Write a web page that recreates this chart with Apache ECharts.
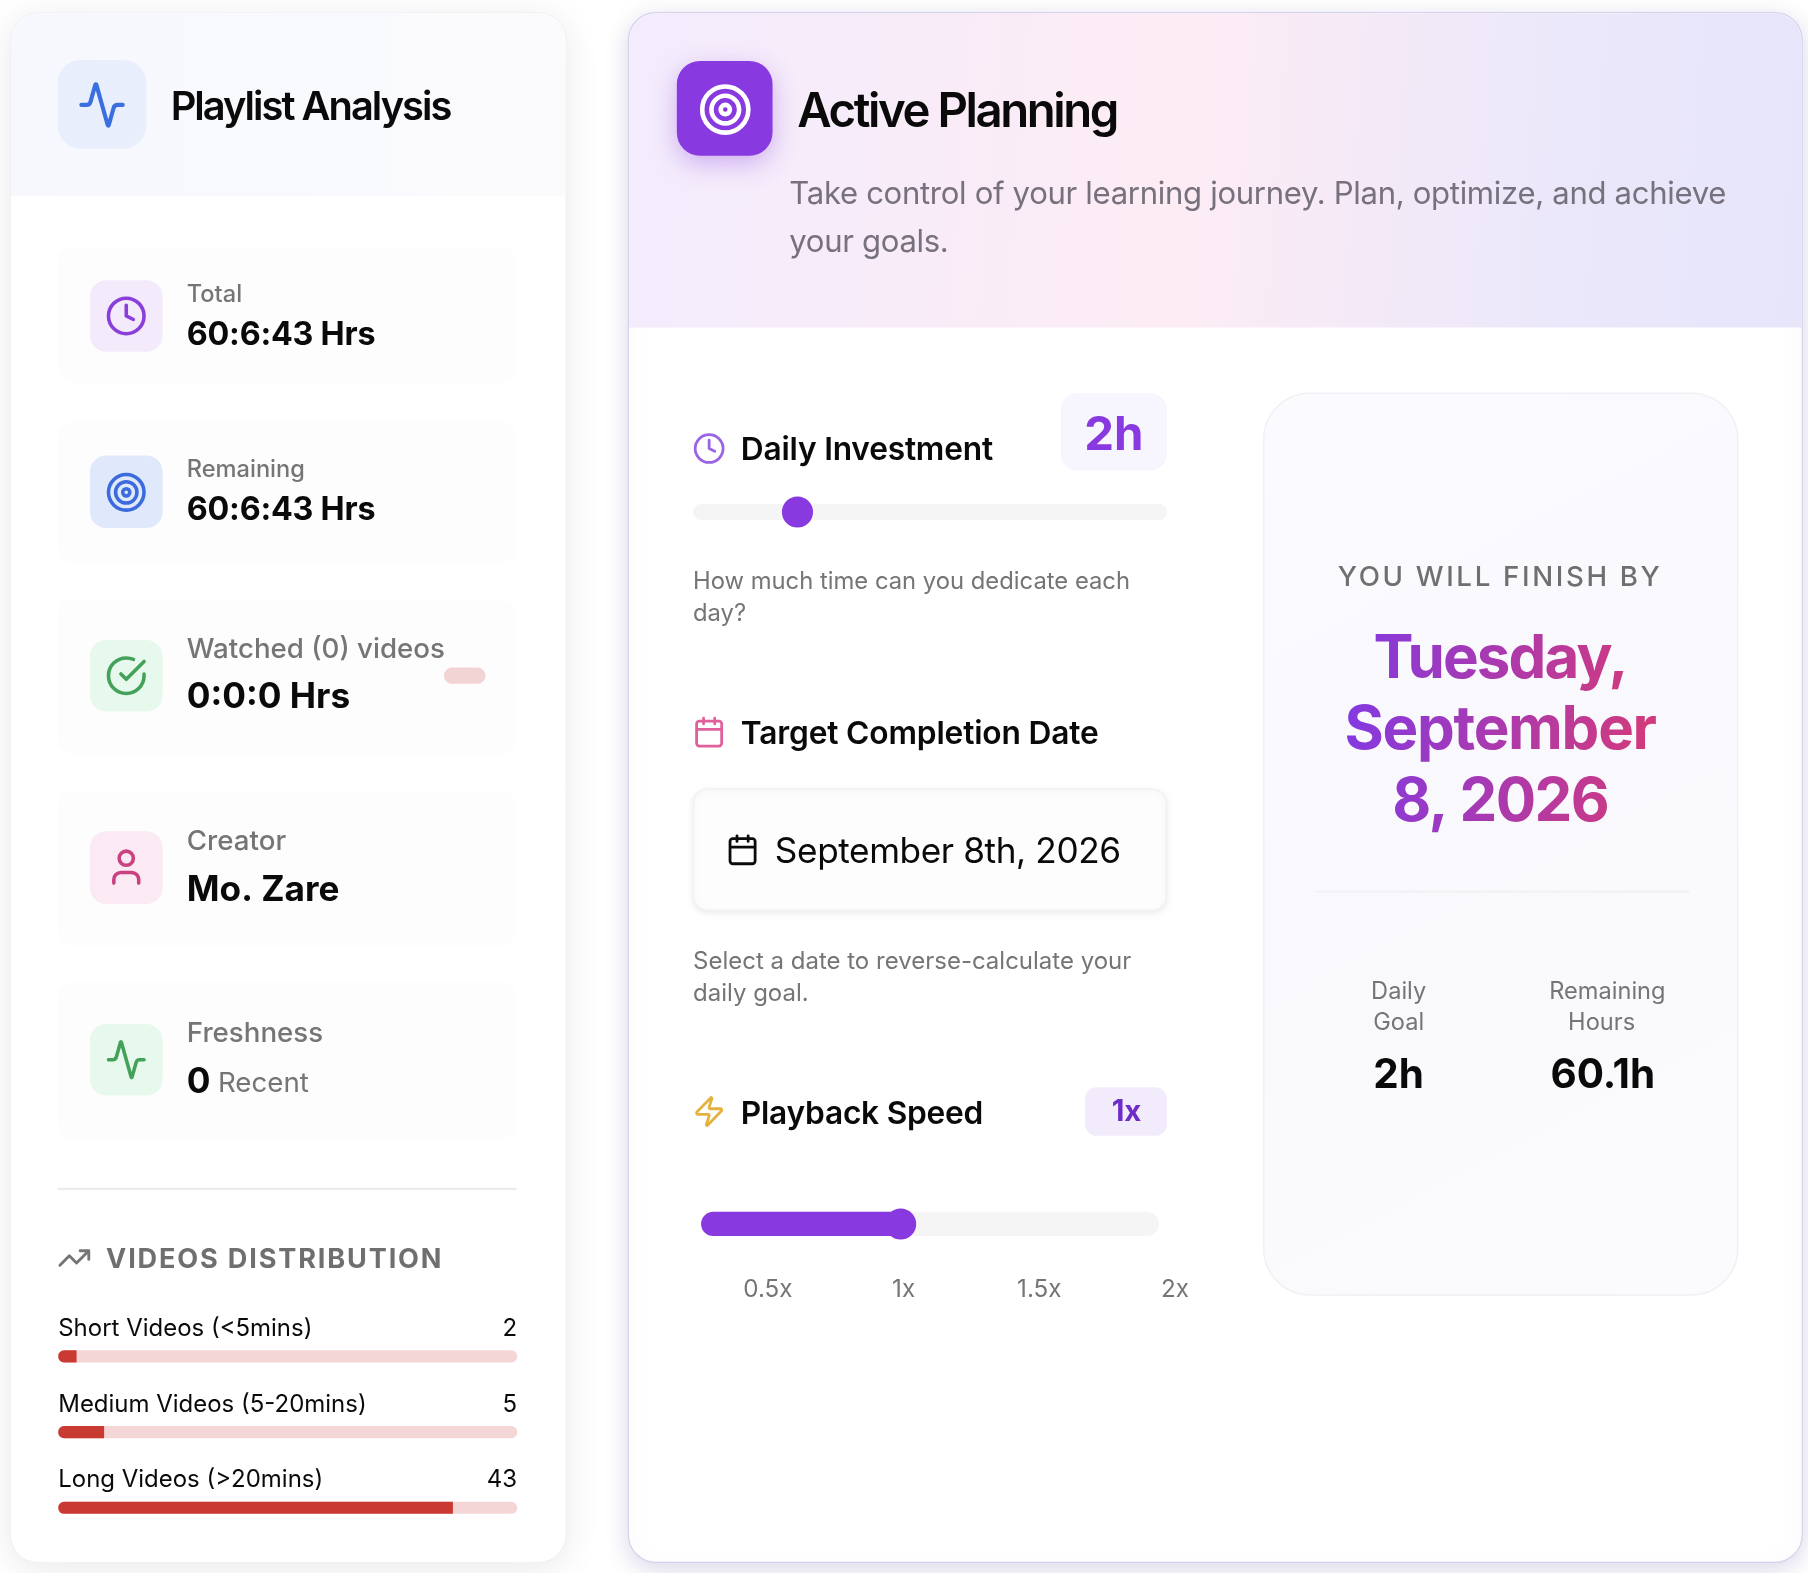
<!DOCTYPE html>
<html>
<head>
<meta charset="utf-8">
<title>Active Planning</title>
<script src="https://cdn.jsdelivr.net/npm/echarts@6/dist/echarts.min.js"></script>
<style>
	html, body { margin: 0; padding: 0; background: #fff; }
	#chart-container { width: 1808px; height: 1573px; }
</style>
</head>
<body>
<div id="chart-container"></div>
<script>
// Values
const distCategories = ['Short Videos (<5mins)', 'Medium Videos (5-20mins)', 'Long Videos (>20mins)'];
const distValues = [2, 5, 43];
const distTotal = 50;
const dailyHours = [2];
const dailyRange = [0.5, 8];
const speedValue = [1];
const speedTicks = [0.5, 1, 1.5, 2];

// all layout numbers below are in the 1568 wide design, k brings them to the page
const k = 1808 / 1568;
const FONT = 'Inter';
const PURPLE = '#8839df';
const GREY = '#757575';
const INK = '#0a0a0a';

// text -> letter spacing / fill, applied to the rendered spans after setOption
const tracked = {};
const gradients = {};

const iconPaths = {
	activity: 'M22 12h-2.48a2 2 0 0 0-1.93 1.46l-2.35 8.36a.25.25 0 0 1-.48 0L9.24 2.18a.25.25 0 0 0-.48 0l-2.35 8.36A2 2 0 0 1 4.49 12H2',
	clock: 'M22 12a10 10 0 0 0-20 0a10 10 0 0 0 20 0z M12 6v6l4 2',
	target: 'M22 12a10 10 0 0 0-20 0a10 10 0 0 0 20 0z M18 12a6 6 0 0 0-12 0a6 6 0 0 0 12 0z M14 12a2 2 0 0 0-4 0a2 2 0 0 0 4 0z',
	check: 'M22 11.08V12a10 10 0 1 1-5.93-9.14 M22 4L12 14.01l-3-3',
	user: 'M19 21v-2a4 4 0 0 0-4-4H9a4 4 0 0 0-4 4v2 M16 7a4 4 0 0 0-8 0a4 4 0 0 0 8 0z',
	calendar: 'M8 2v4 M16 2v4 M5 4h14a2 2 0 0 1 2 2v14a2 2 0 0 1-2 2H5a2 2 0 0 1-2-2V6a2 2 0 0 1 2-2z M3 10h18',
	zap: 'M4 14a1 1 0 0 1-.78-1.63l9.9-10.2a.5.5 0 0 1 .86.46l-1.92 6.02A1 1 0 0 0 13 10h7a1 1 0 0 1 .78 1.63l-9.9 10.2a.5.5 0 0 1-.86-.46l1.92-6.02A1 1 0 0 0 11 14z',
	trending: 'M16 7h6v6 M22 7l-8.5 8.5-5-5L2 17'
};
Object.keys(iconPaths).forEach(function (name) {
	echarts.graphic.registerShape('icon-' + name, echarts.graphic.extendPath(iconPaths[name]));
});

function box(x0, y0, x1, y1, r, fill, extra) {
	return {
		type: 'rect',
		silent: true,
		shape: { x: x0 * k, y: y0 * k, width: (x1 - x0) * k, height: (y1 - y0) * k, r: Array.isArray(r) ? r.map(v => v * k) : r * k },
		style: Object.assign({ fill: fill }, extra || {})
	};
}

function label(text, x, y, size, color, weight, align, spacing) {
	if (spacing) tracked[text] = spacing;
	return {
		type: 'text',
		silent: true,
		x: x * k,
		y: (y + size * 0.07) * k,
		style: {
			text: text,
			fill: color,
			font: (weight || 400) + ' ' + (size * k).toFixed(1) + 'px ' + FONT,
			textAlign: align || 'left',
			textVerticalAlign: 'middle',
			verticalAlign: 'middle'
		}
	};
}

function icon(name, cx, cy, units, color, lineWidth) {
	const s = units * k / 24;
	return {
		type: 'icon-' + name,
		silent: true,
		x: cx * k - 12 * s,
		y: cy * k - 12 * s,
		scaleX: s,
		scaleY: s,
		style: { fill: 'none', stroke: color, lineWidth: lineWidth || 2, lineCap: 'round', lineJoin: 'round' }
	};
}

// the date headline is a gradient clipped to the glyphs, so a canvas gradient is used
function headline(text, y, spacing) {
	const g = document.createElement('canvas').getContext('2d')
		.createLinearGradient((1167 - 1301) * k, -20 * k, (1436 - 1301) * k, 20 * k);
	g.addColorStop(0, '#8339e2');
	g.addColorStop(1, '#d43a78');
	gradients[text] = g;
	return label(text, 1301, y, 52, PURPLE, 700, 'center', spacing);
}

const lg = echarts.graphic.LinearGradient;

const elements = [
	// left panel
	box(9, 11, 491, 1355, 24, '#ffffff', { shadowBlur: 34, shadowColor: 'rgba(40,40,60,0.10)', shadowOffsetY: 6, stroke: '#f1f1f4', lineWidth: 1 }),
	box(9.5, 11.5, 490.5, 170, [24, 24, 0, 0], new lg(0, 0, 1, 0, [{ offset: 0, color: '#f6f8fe' }, { offset: 1, color: '#fbfbfd' }])),
	box(50, 52, 127, 129, 20, new lg(0, 0, 1, 1, [{ offset: 0, color: '#e8eefc' }, { offset: 1, color: '#eaeffc' }])),
	icon('activity', 88.5, 91, 43, '#3b6fe0', 2),
	label('Playlist Analysis', 148, 91.5, 34.5, INK, 600, 'left', -1.7),

	// stat rows
	box(50, 214, 448, 332, 14, '#fdfdfd'),
	box(50, 366, 448, 488, 14, '#fdfdfd'),
	box(50, 520, 448, 654, 14, '#fdfdfd'),
	box(50, 686, 448, 820, 14, '#fdfdfd'),
	box(50, 852, 448, 988, 14, '#fdfdfd'),

	box(78, 243, 141, 305, 14, '#f3ebfc'),
	icon('clock', 109.5, 274, 37, '#8a3fd9', 2),
	label('Total', 162, 254, 20.5, GREY, 500),
	label('60:6:43 Hrs', 162, 288.5, 28, INK, 700, 'left', -0.2),

	box(78, 395, 141, 458, 14, '#dfe9fb'),
	icon('target', 109.5, 427, 37, '#3b6bdc', 2),
	label('Remaining', 162, 406, 20.5, GREY, 500),
	label('60:6:43 Hrs', 162, 441, 28, INK, 700, 'left', -0.2),

	box(78, 555, 141, 617, 14, '#e7f8ec'),
	icon('check', 109.5, 586, 37, '#43a15a', 2),
	label('Watched (0) videos', 162, 561.5, 24, GREY, 500),
	label('0:0:0 Hrs', 162, 603, 30.5, INK, 700),
	box(385, 579, 421, 593, 7, '#f3d4d4'),

	box(78, 721, 141, 784, 14, '#fbe9f3'),
	icon('user', 109.5, 752, 37, '#c9427f', 2),
	label('Creator', 162, 728, 24, GREY, 500),
	label('Mo. Zare', 162, 770, 30.5, INK, 700),

	box(78, 888, 141, 950, 14, '#e7f8ec'),
	icon('activity', 109.5, 919, 37, '#43a15a', 2),
	label('Freshness', 162, 895, 24, GREY, 500),
	label('0', 162, 937, 30.5, INK, 700),
	label('Recent', 189, 938.5, 24, GREY, 400),

	box(50, 1030, 448, 1032, 0, '#ececef'),
	icon('trending', 64.5, 1091, 30, '#757575', 2),
	label('VIDEOS DISTRIBUTION', 92, 1091, 23.5, '#6f6f6f', 700, 'left', 1.6),

	// right panel
	box(545, 11, 1563, 1355, 24, '#ffffff', { shadowBlur: 24, shadowColor: 'rgba(90,80,150,0.22)', shadowOffsetY: 6, stroke: '#d6d2ec', lineWidth: 1.2 }),
	box(545.6, 11.6, 1562.4, 284, [24, 24, 0, 0], new lg(0, 0, 1, 0.28, [
		{ offset: 0, color: '#f3ecfd' },
		{ offset: 0.48, color: '#fdecf4' },
		{ offset: 0.78, color: '#ece8fa' },
		{ offset: 1, color: '#e6e5fa' }
	])),
	box(587, 53, 670, 135, 20, PURPLE, { shadowBlur: 26, shadowColor: 'rgba(136,57,223,0.35)', shadowOffsetY: 8 }),
	icon('target', 629, 95, 48, '#ffffff', 2),
	label('Active Planning', 691.5, 95, 41, INK, 600, 'left', -2.1),
	label('Take control of your learning journey. Plan, optimize, and achieve', 684.5, 167, 27, '#76717d', 400, 'left', -0.28),
	label('your goals.', 684.5, 208.5, 27, '#76717d', 400, 'left', -0.28),

	icon('clock', 615, 389, 29, '#9b63e6', 2),
	label('Daily Investment', 642.5, 388.5, 27.5, INK, 600, 'left', -0.18),
	box(920, 341, 1012, 408, 14, '#f7f5fd'),
	label('2h', 966, 375, 41, PURPLE, 700, 'center'),
	box(601, 437, 1012, 451, 7, '#f5f5f5'),
	label('How much time can you dedicate each', 601, 503, 20.6, GREY, 400),
	label('day?', 601, 531, 20.6, GREY, 400),

	icon('calendar', 615, 635, 29, '#e0609c', 2),
	label('Target Completion Date', 642.5, 635, 27.5, INK, 600, 'left', -0.14),
	box(601.5, 684.5, 1011.5, 789.5, 12, '#fdfdfd', { stroke: '#f2f2f2', lineWidth: 1.5, shadowBlur: 6, shadowColor: 'rgba(0,0,0,0.07)', shadowOffsetY: 2 }),
	icon('calendar', 644, 737, 29, '#0a0a0a', 2),
	label('September 8th, 2026', 672, 737, 30.5, INK, 400, 'left', -0.35),
	label('Select a date to reverse-calculate your', 601, 833, 20.8, GREY, 400),
	label('daily goal.', 601, 860.5, 20.8, GREY, 400),

	icon('zap', 615, 964, 29, '#e5b23f', 2),
	label('Playback Speed', 642.5, 964.5, 27.5, INK, 600, 'left', -0.2),
	box(941, 943, 1012, 985, 10, '#f1ebfc'),
	label('1x', 977, 963, 25.5, '#6f2dc8', 700, 'center'),

	// finish card
	box(1096, 341, 1507, 1123, 40, new lg(0, 0, 1, 1, [
		{ offset: 0, color: '#fbfaff' },
		{ offset: 0.5, color: '#f9f9fd' },
		{ offset: 1, color: '#fbfafc' }
	]), { stroke: '#f1f1f5', lineWidth: 1.5 }),
	label('YOU WILL FINISH BY', 1301, 499, 24, '#6f6f6f', 500, 'center', 2.3),
	headline('Tuesday,', 569, -1.6),
	headline('September', 630.5, -1.1),
	headline('8, 2026', 692.5, -1.4),
	box(1141, 772.5, 1465, 774, 0, '#f0f0f3'),
	label('Daily', 1213, 859, 20.5, GREY, 400, 'center'),
	label('Goal', 1213, 886, 20.5, GREY, 400, 'center'),
	label('2h', 1213, 931, 35, INK, 700, 'center'),
	label('Remaining', 1394, 859, 20.5, GREY, 400, 'center'),
	label('Hours', 1389, 886, 20.5, GREY, 400, 'center'),
	label('60.1h', 1390, 931, 35, INK, 700, 'center')
];

const chartDom = document.getElementById('chart-container');
const myChart = echarts.init(chartDom);

// names and counts sit one line above the middle of their bar
function distLabel() {
	return {
		inside: true,
		margin: 0,
		interval: 0,
		hideOverlap: false,
		color: INK,
		fontFamily: FONT,
		fontSize: 20.8 * k,
		lineHeight: 48 * k,
		formatter: function (v) { return v + '\n '; }
	};
}

const option = {
	animation: false,
	backgroundColor: '#ffffff',
	textStyle: { fontFamily: FONT },
	graphic: { elements: elements },
	grid: [
		// distribution bars
		{ left: 50.5 * k, width: 398 * k, top: 1143.5 * k, height: 197 * k },
		// daily slider, thumb travels inside the track
		{ left: 615 * k, width: 383 * k, top: 430 * k, height: 28 * k },
		// speed slider
		{ left: 608 * k, width: 397 * k, top: 1048 * k, height: 27 * k },
		// speed tick labels
		{ left: 666 * k, width: 353 * k, top: 1102 * k, height: 6 * k }
	],
	xAxis: [
		{ type: 'value', gridIndex: 0, min: 0, max: distTotal, show: false },
		{ type: 'value', gridIndex: 1, min: dailyRange[0], max: dailyRange[1], show: false },
		{ type: 'value', gridIndex: 2, min: 0.227, max: speedTicks[speedTicks.length - 1], show: false },
		{
			type: 'value',
			gridIndex: 3,
			min: speedTicks[0],
			max: speedTicks[speedTicks.length - 1],
			interval: 0.5,
			splitLine: { show: false },
			axisLine: { show: false },
			axisTick: { show: false },
			axisLabel: {
				color: GREY,
				fontFamily: FONT,
				fontSize: 21 * k,
				margin: 0,
				formatter: function (v) { return v + 'x'; }
			}
		}
	],
	yAxis: [
		{
			type: 'category',
			gridIndex: 0,
			inverse: true,
			data: distCategories,
			axisLine: { show: false },
			axisTick: { show: false },
			axisLabel: distLabel()
		},
		{
			type: 'category',
			gridIndex: 0,
			position: 'right',
			inverse: true,
			data: distValues.map(String),
			axisLine: { show: false },
			axisTick: { show: false },
			axisLabel: distLabel()
		},
		{ type: 'category', gridIndex: 1, data: ['daily'], show: false },
		{ type: 'category', gridIndex: 2, data: ['speed'], show: false },
		{ type: 'category', gridIndex: 3, data: ['ticks'], show: false }
	],
	series: [
		{
			name: 'Videos',
			type: 'bar',
			xAxisIndex: 0,
			yAxisIndex: 0,
			barWidth: 10.5 * k,
			silent: true,
			data: distValues,
			itemStyle: { color: '#c83a32', borderRadius: [5 * k, 0, 0, 5 * k] },
			showBackground: true,
			backgroundStyle: { color: '#f5d6d6', borderRadius: 5 * k }
		},
		{
			name: 'Daily hours',
			type: 'scatter',
			xAxisIndex: 1,
			yAxisIndex: 2,
			silent: true,
			clip: false,
			symbolSize: 27 * k,
			data: dailyHours.map(function (v) { return [v, 0]; }),
			itemStyle: { color: PURPLE, opacity: 1 }
		},
		{
			name: 'Speed',
			type: 'bar',
			xAxisIndex: 2,
			yAxisIndex: 3,
			barWidth: 21 * k,
			silent: true,
			data: speedValue,
			itemStyle: { color: PURPLE, borderRadius: [10.5 * k, 0, 0, 10.5 * k] },
			showBackground: true,
			backgroundStyle: { color: '#f5f5f5', borderRadius: 10.5 * k }
		},
		{
			name: 'Speed thumb',
			type: 'scatter',
			xAxisIndex: 2,
			yAxisIndex: 3,
			silent: true,
			clip: false,
			symbolSize: 27 * k,
			data: speedValue.map(function (v) { return [v, 0]; }),
			itemStyle: { color: PURPLE, opacity: 1 }
		}
	]
};

myChart.setOption(option);

// echarts has no letter spacing or gradient text, so set them on the painted spans.
// zrender only binds string fills, a gradient has to reach the context by hand
const zr = myChart.getZr();
const ctx = zr.painter.getLayer(0).ctx;
zr.storage.getDisplayList(true, true).forEach(function (el) {
	const text = el.style && el.style.text;
	if (!text || !(tracked[text] || gradients[text])) return;
	const spacing = ((tracked[text] || 0) * k).toFixed(2) + 'px';
	const gradient = gradients[text];
	if (gradient) el.style.fill = gradient;
	el.beforeBrush = function () {
		ctx.letterSpacing = spacing;
		if (gradient) ctx.fillStyle = gradient;
	};
	el.afterBrush = function () { ctx.letterSpacing = '0px'; };
	el.markRedraw();
});
zr.refreshImmediately();
</script>
</body>
</html>
